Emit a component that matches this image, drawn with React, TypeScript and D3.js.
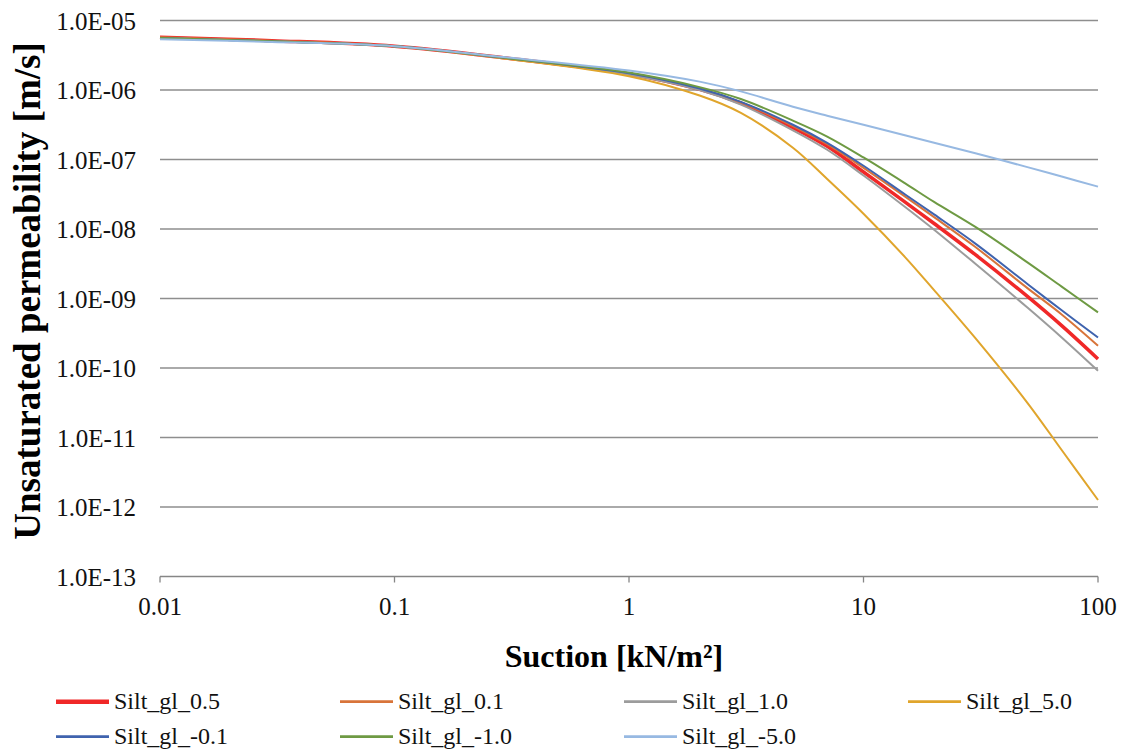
import React from "react";
import * as d3 from "d3";

// Suction [kN/m²]
const suction = [0.01, 0.03, 0.1, 0.3, 1, 2, 3, 5, 7, 10, 15, 20, 30, 50, 70, 100];

// Unsaturated permeability [m/s] per series
const silt_gl_0_5 = [5.75e-6, 5.13e-6, 4.27e-6, 2.88e-6, 1.70e-6, 1.02e-6, 6.46e-7, 2.88e-7, 1.55e-7, 6.61e-8, 2.45e-8, 1.20e-8, 4.27e-9, 1.07e-9, 4.07e-10, 1.35e-10];
const silt_gl_0_1 = [5.75e-6, 5.13e-6, 4.27e-6, 2.88e-6, 1.70e-6, 1.02e-6, 6.61e-7, 3.02e-7, 1.66e-7, 7.59e-8, 2.95e-8, 1.48e-8, 5.50e-9, 1.41e-9, 5.89e-10, 2.09e-10];
const silt_gl_1_0 = [5.62e-6, 5.01e-6, 4.27e-6, 2.88e-6, 1.66e-6, 1.00e-6, 6.17e-7, 2.63e-7, 1.38e-7, 5.89e-8, 2.09e-8, 9.77e-9, 3.16e-9, 7.41e-10, 2.75e-10, 9.12e-11];
const silt_gl_5_0 = [5.62e-6, 5.01e-6, 4.27e-6, 2.82e-6, 1.58e-6, 8.32e-7, 4.68e-7, 1.48e-7, 5.25e-8, 1.66e-8, 3.98e-9, 1.32e-9, 2.69e-10, 3.16e-11, 6.61e-12, 1.26e-12];
const silt_gl_m0_1 = [5.62e-6, 5.01e-6, 4.27e-6, 2.88e-6, 1.74e-6, 1.05e-6, 6.76e-7, 3.16e-7, 1.74e-7, 8.13e-8, 3.16e-8, 1.62e-8, 6.17e-9, 1.62e-9, 6.76e-10, 2.75e-10];
const silt_gl_m1_0 = [5.62e-6, 5.01e-6, 4.27e-6, 2.88e-6, 1.78e-6, 1.10e-6, 7.41e-7, 3.63e-7, 2.14e-7, 1.07e-7, 4.57e-8, 2.45e-8, 1.07e-8, 3.31e-9, 1.48e-9, 6.31e-10];
const silt_gl_m5_0 = [5.37e-6, 4.90e-6, 4.27e-6, 2.95e-6, 1.91e-6, 1.32e-6, 9.55e-7, 5.75e-7, 4.27e-7, 3.16e-7, 2.24e-7, 1.74e-7, 1.23e-7, 7.76e-8, 5.69e-8, 4.07e-8];

const seriesNames = ["Silt_gl_0.5", "Silt_gl_0.1", "Silt_gl_1.0", "Silt_gl_5.0", "Silt_gl_-0.1", "Silt_gl_-1.0", "Silt_gl_-5.0"];
const seriesValues = [silt_gl_0_5, silt_gl_0_1, silt_gl_1_0, silt_gl_5_0, silt_gl_m0_1, silt_gl_m1_0, silt_gl_m5_0];
const seriesColors = ["#F02828", "#D8743A", "#9C9C9C", "#E0A52C", "#3F63AE", "#6E9A43", "#97B9E2"];
const seriesWidths = [3.5, 2, 2, 2, 2, 2, 2];

const xTicks = [0.01, 0.1, 1, 10, 100];
const xTickLabels = ["0.01", "0.1", "1", "10", "100"];
const yTicks = [1e-5, 1e-6, 1e-7, 1e-8, 1e-9, 1e-10, 1e-11, 1e-12, 1e-13];
const yTickLabels = ["1.0E-05", "1.0E-06", "1.0E-07", "1.0E-08", "1.0E-09", "1.0E-10", "1.0E-11", "1.0E-12", "1.0E-13"];

const W = 1125;
const H = 751;
const left = 160;
const right = 1098;
const top = 20.5;
const bottom = 576.5;
const font = "Liberation Serif, Times New Roman, DejaVu Serif, serif";

export default function App() {
  React.useEffect(() => {
    document.body.style.margin = "0";
  }, []);

  const x = d3.scaleLog().domain([0.01, 100]).range([left, right]);
  const y = d3.scaleLog().domain([1e-13, 1e-5]).range([bottom, top]);
  const line = d3
    .line<[number, number]>()
    .x((d) => x(d[0]))
    .y((d) => y(d[1]))
    .curve(d3.curveCatmullRom.alpha(0.5));

  const legendCols = [56, 340, 624, 908];
  const legendRows = [701.7, 736.7];
  const txt = { fontFamily: font } as React.CSSProperties;

  return (
    <svg width={W} height={H} style={{ position: "absolute", left: 0, top: 0, background: "#fff" }}>
      {yTicks.map((t, i) =>
        i === yTicks.length - 1 ? null : (
          <line key={"g" + i} x1={left} x2={right} y1={y(t)} y2={y(t)} stroke="#8E8E8E" strokeWidth={1.3} />
        )
      )}
      <line x1={left} x2={right} y1={y(1e-13)} y2={y(1e-13)} stroke="#868686" strokeWidth={1.6} />
      {xTicks.map((t, i) => (
        <line key={"xt" + i} x1={x(t)} x2={x(t)} y1={bottom} y2={bottom + 6} stroke="#868686" strokeWidth={1.3} />
      ))}
      {xTicks.map((t, i) => (
        <text key={"xl" + i} x={x(t)} y={615} textAnchor="middle" style={txt} fontSize={25} fill="#111">
          {xTickLabels[i]}
        </text>
      ))}
      {yTicks.map((t, i) => (
        <text key={"yl" + i} x={136} y={y(t) + 9} textAnchor="end" style={txt} fontSize={25} fill="#111">
          {yTickLabels[i]}
        </text>
      ))}
      {seriesValues.map((vals, i) => (
        <path
          key={"s" + i}
          d={line(suction.map((s, j) => [s, vals[j]] as [number, number])) || ""}
          fill="none"
          stroke={seriesColors[i]}
          strokeWidth={seriesWidths[i]}
          strokeLinejoin="round"
        />
      ))}
      <text
        transform={`translate(40, 291) rotate(-90)`}
        textAnchor="middle"
        style={txt}
        fontSize={37}
        fontWeight="bold"
        fill="#000"
      >
        Unsaturated permeability [m/s]
      </text>
      <text x={614} y={666.7} textAnchor="middle" style={txt} fontSize={32} fontWeight="bold" fill="#000">
        Suction [kN/m²]
      </text>
      {seriesNames.map((name, i) => {
        const cx = legendCols[i % 4];
        const cy = legendRows[Math.floor(i / 4)];
        return (
          <g key={"lg" + i}>
            <line x1={cx} x2={cx + 53} y1={cy} y2={cy} stroke={seriesColors[i]} strokeWidth={i === 0 ? 4.5 : 2.8} />
            <text x={cx + 58} y={cy + 7.6} style={txt} fontSize={24} fill="#111">
              {name}
            </text>
          </g>
        );
      })}
    </svg>
  );
}
